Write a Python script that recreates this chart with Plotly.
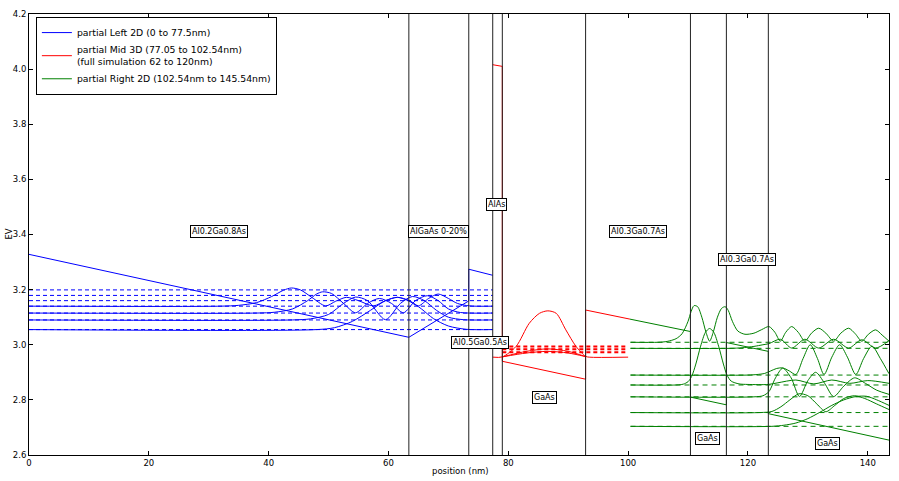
import plotly.graph_objects as go

# ---------------- data (nm, eV) ----------------
boundaries_nm = [63.4, 73.4, 77.4, 79.0, 92.9, 110.4, 116.4, 123.4]

# Left (blue)
left_pot_x = [0, 63.4, 73.4, 73.4, 77.4]
left_pot_E = [3.328, 3.027, 3.159, 3.274, 3.252]
left_levels = [3.199, 3.179, 3.160, 3.140, 3.115, 3.090, 3.055]
left_span = [0, 77.4]
left_wf1_x = [0, 48, 51, 54, 57, 59.5, 61.5, 63.5, 65.5, 67.5, 70, 73, 77.4]
left_wf1_E = [3.055, 3.055, 3.062, 3.085, 3.125, 3.160, 3.172, 3.160, 3.130, 3.095, 3.068, 3.056, 3.055]
left_wf2_x = [0, 44, 47, 50, 52.5, 54.5, 56.5, 59.5, 62, 64, 66, 68, 70, 72.5, 77.4]
left_wf2_E = [3.090, 3.090, 3.094, 3.110, 3.150, 3.173, 3.160, 3.091, 3.150, 3.175, 3.160, 3.125, 3.100, 3.091, 3.090]
left_wf3_x = [0, 38, 41, 44, 46.5, 48, 49, 50.5, 52.5, 54.5, 56.5, 58.5, 60.5, 62.5, 64.5, 66.5, 68.3, 70, 72, 77.4]
left_wf3_E = [3.115, 3.115, 3.118, 3.130, 3.160, 3.184, 3.192, 3.186, 3.150, 3.116, 3.150, 3.168, 3.150, 3.116, 3.160, 3.178, 3.160, 3.130, 3.117, 3.115]
left_wf4_x = [0, 32, 35, 38, 40.5, 42.5, 43.8, 45.3, 47.2, 49.5, 51.2, 53, 55, 57.5, 59.5, 61.5, 63.3, 65, 66.7, 68.3, 70, 71.5, 73.5, 77.4]
left_wf4_E = [3.140, 3.140, 3.143, 3.153, 3.175, 3.198, 3.206, 3.199, 3.172, 3.141, 3.158, 3.172, 3.160, 3.141, 3.160, 3.172, 3.160, 3.141, 3.168, 3.184, 3.168, 3.150, 3.141, 3.140]

# Mid (red)
mid_pot_x = [77.4, 79.0, 79.0, 92.9, 92.9, 100.3]
mid_pot_E = [4.016, 4.010, 2.940, 2.875, 3.126, 3.093]
mid_levels = [2.994, 2.984, 2.973]
mid_span = [79.0, 100.0]
mid_wf1_x = [77.4, 79, 81.3, 83.5, 85.2, 86.6, 88, 89.6, 91.3, 92.9, 93.5, 100.0]
mid_wf1_E = [2.955, 2.956, 2.994, 3.078, 3.114, 3.123, 3.114, 3.054, 2.994, 2.958, 2.955, 2.955]
mid_wf2_x = [79, 83, 86.6, 90, 92.9]
mid_wf2_E = [2.956, 2.976, 2.985, 2.976, 2.957]
mid_wf3_x = [79, 83, 86.6, 90, 92.9]
mid_wf3_E = [2.956, 2.970, 2.976, 2.970, 2.957]

# Right (green)
right_pot_x = [100.3, 110.4, 110.4, 116.4, 116.4, 123.4, 123.4, 143.54]
right_pot_E = [3.093, 3.048, 2.810, 2.782, 3.008, 2.976, 2.750, 2.654]
right_levels = [3.009, 2.987, 2.890, 2.854, 2.811, 2.754, 2.704]
right_span = [100.4, 143.54]
right_wf1_x = [100.4, 105, 106.5, 108, 109, 110, 110.5, 111, 111.6, 112.3, 113, 113.6, 114.2, 114.9, 115.6, 116.2, 116.7, 117.4, 118.3, 119.5,
               121, 122.3, 123.5, 124.5, 125.4, 126.3, 127.3, 128.4, 129.5, 130.6, 131.8, 133, 134.3, 135.5, 136.8, 137.9, 139, 140.1, 141.3, 142.4, 143.54]
right_wf1_E = [3.009, 3.009, 3.012, 3.022, 3.04, 3.085, 3.12, 3.142, 3.138, 3.10, 3.045, 3.013, 3.045, 3.10, 3.132, 3.138, 3.125, 3.085, 3.05, 3.038,
               3.042, 3.055, 3.066, 3.045, 3.013, 3.045, 3.066, 3.045, 3.013, 3.042, 3.060, 3.042, 3.013, 3.042, 3.060, 3.040, 3.013, 3.038, 3.054, 3.035, 3.013]
right_wf2_x = [100.4, 117, 119, 121, 122.5, 123.5, 125.4, 127.3, 129.5, 131.8, 134.3, 136.8, 139, 141.3, 143.54]
right_wf2_E = [2.987, 2.987, 2.989, 2.994, 3.000, 3.004, 3.020, 2.988, 3.020, 2.988, 3.020, 2.988, 3.018, 2.988, 3.015]
right_wf3_x = [100.4, 120, 121.5, 122.8, 123.8, 124.8, 125.8, 126.9, 128, 129.2, 130.4, 131.6, 132.7, 134, 135.3, 136.6, 138, 139.3, 140.7, 142.1, 143.54]
right_wf3_E = [2.890, 2.890, 2.892, 2.896, 2.905, 2.914, 2.916, 2.905, 2.892, 2.95, 3.0, 2.95, 2.892, 2.955, 3.0, 2.955, 2.892, 2.95, 2.995, 2.95, 2.895]
right_wf4_x = [100.4, 108, 109.2, 110, 110.6, 111.3, 112.1, 112.9, 113.6, 114.3, 115.1, 115.9, 116.5, 117.2, 118.5, 120, 123.4, 125, 128, 131, 134, 137, 140, 143.54]
right_wf4_E = [2.854, 2.854, 2.857, 2.866, 2.885, 2.93, 2.995, 3.045, 3.059, 3.045, 2.995, 2.93, 2.89, 2.868, 2.858, 2.856, 2.856, 2.862, 2.872, 2.858, 2.872, 2.86, 2.87, 2.86]
right_wf5_x = [100.4, 121, 122.5, 123.5, 124.6, 125.8, 127.2, 128.6, 130, 131.3, 132.8, 134.3, 136, 137.8, 139.6, 141.5, 143.54]
right_wf5_E = [2.811, 2.811, 2.815, 2.83, 2.88, 2.915, 2.88, 2.812, 2.87, 2.90, 2.86, 2.812, 2.85, 2.88, 2.86, 2.835, 2.82]
right_wf6_x = [100.4, 122, 124, 125.5, 127, 128.5, 130, 131.5, 133, 134.5, 136, 137.8, 139.5, 141.5, 143.54]
right_wf6_E = [2.754, 2.754, 2.758, 2.775, 2.80, 2.822, 2.815, 2.785, 2.757, 2.78, 2.805, 2.815, 2.805, 2.785, 2.765]
right_wf7_x = [100.4, 124, 126, 128, 130, 132, 134, 136, 138, 139.8, 141.5, 143.54]
right_wf7_E = [2.704, 2.704, 2.708, 2.716, 2.732, 2.755, 2.78, 2.80, 2.812, 2.813, 2.80, 2.78]

legend_names = ["partial Left 2D (0 to 77.5nm)",
                "partial Mid 3D (77.05 to 102.54nm)<br>(full simulation 62 to 120nm)",
                "partial Right 2D (102.54nm to 145.54nm)"]

region_labels = ["Al0.2Ga0.8As", "AlGaAs 0-20%", "AlAs", "Al0.5Ga0.5As", "GaAs",
                 "Al0.3Ga0.7As", "Al0.3Ga0.7As", "GaAs", "GaAs"]
region_label_x = [31.7, 68.4, 78.0, 75.3, 86.0, 101.7, 119.8, 113.3, 133.3]
region_label_E = [3.41, 3.41, 3.51, 3.009, 2.808, 3.41, 3.31, 2.661, 2.643]

FONT = "DejaVu Sans, Liberation Sans, sans-serif"
BLUE, RED, GREEN = "#0000ff", "#ff0000", "#008000"

fig = go.Figure()


def line(x, y, color, width=1.0, dash="solid", name=None, show=False, group=None, spline=False):
    fig.add_trace(go.Scatter(
        x=x, y=y, mode="lines", name=name, showlegend=show, legendgroup=group,
        line=dict(color=color, width=width, dash=dash,
                  shape="spline" if spline else "linear", smoothing=0.8 if spline else None),
        hoverinfo="skip"))


# left
line(left_pot_x, left_pot_E, BLUE, name=legend_names[0], show=True, group="L")
for e in left_levels:
    line(left_span, [e, e], BLUE, dash="4px,3px", group="L")
for xs, es in [(left_wf1_x, left_wf1_E), (left_wf2_x, left_wf2_E), (left_wf3_x, left_wf3_E), (left_wf4_x, left_wf4_E)]:
    line(xs, es, BLUE, group="L", spline=True)

# mid
line(mid_pot_x, mid_pot_E, RED, name=legend_names[1], show=True, group="M")
for e in mid_levels:
    line(mid_span, [e, e], RED, width=2, dash="4px,3px", group="M")
for xs, es in [(mid_wf1_x, mid_wf1_E), (mid_wf2_x, mid_wf2_E), (mid_wf3_x, mid_wf3_E)]:
    line(xs, es, RED, group="M", spline=True)

# right
line(right_pot_x, right_pot_E, GREEN, name=legend_names[2], show=True, group="R")
for e in right_levels:
    line(right_span, [e, e], GREEN, dash="5px,4px", group="R")
for xs, es in [(right_wf1_x, right_wf1_E), (right_wf2_x, right_wf2_E), (right_wf3_x, right_wf3_E),
               (right_wf4_x, right_wf4_E), (right_wf5_x, right_wf5_E), (right_wf6_x, right_wf6_E),
               (right_wf7_x, right_wf7_E)]:
    line(xs, es, GREEN, group="R", spline=True)

for b in boundaries_nm:
    fig.add_shape(type="line", xref="x", yref="paper", x0=b, x1=b, y0=0, y1=1,
                  line=dict(color="#222222", width=1))

for t, xv, ev in zip(region_labels, region_label_x, region_label_E):
    fig.add_annotation(x=xv, y=ev, text=t, showarrow=False, xanchor="center", yanchor="middle",
                       font=dict(family=FONT, size=8, color="black"),
                       bgcolor="white", bordercolor="black", borderwidth=1, borderpad=1)

fig.add_annotation(xref="paper", yref="paper", x=0.5017, y=-0.036, text="position (nm)",
                   showarrow=False, xanchor="center", yanchor="middle",
                   font=dict(family=FONT, size=8.5, color="black"))
fig.add_annotation(xref="paper", yref="paper", x=-0.0244, y=0.5, text="EV", textangle=-90,
                   showarrow=False, xanchor="center", yanchor="middle",
                   font=dict(family=FONT, size=8.5, color="black"))

axis_common = dict(showgrid=False, zeroline=False, showline=True, linecolor="black", linewidth=1,
                   mirror="allticks", ticks="inside", ticklen=4, tickcolor="black",
                   tickfont=dict(family=FONT, size=8.5, color="black"))
fig.update_xaxes(range=[0, 143.54], tickvals=[0, 20, 40, 60, 80, 100, 120, 140], **axis_common)
fig.update_yaxes(range=[2.6, 4.2], tickvals=[2.6, 2.8, 3.0, 3.2, 3.4, 3.6, 3.8, 4.0, 4.2],
                 tickformat=".1f", **axis_common)

fig.update_layout(
    width=899, height=481,
    margin=dict(l=29, r=9, t=9, b=26),
    plot_bgcolor="white", paper_bgcolor="white",
    showlegend=True,
    legend=dict(x=0.008, y=0.993, xanchor="left", yanchor="top",
                bgcolor="white", bordercolor="black", borderwidth=1,
                font=dict(family=FONT, size=9.3, color="black"),
                itemwidth=30, tracegroupgap=0),
)

fig.write_html("out.html")
